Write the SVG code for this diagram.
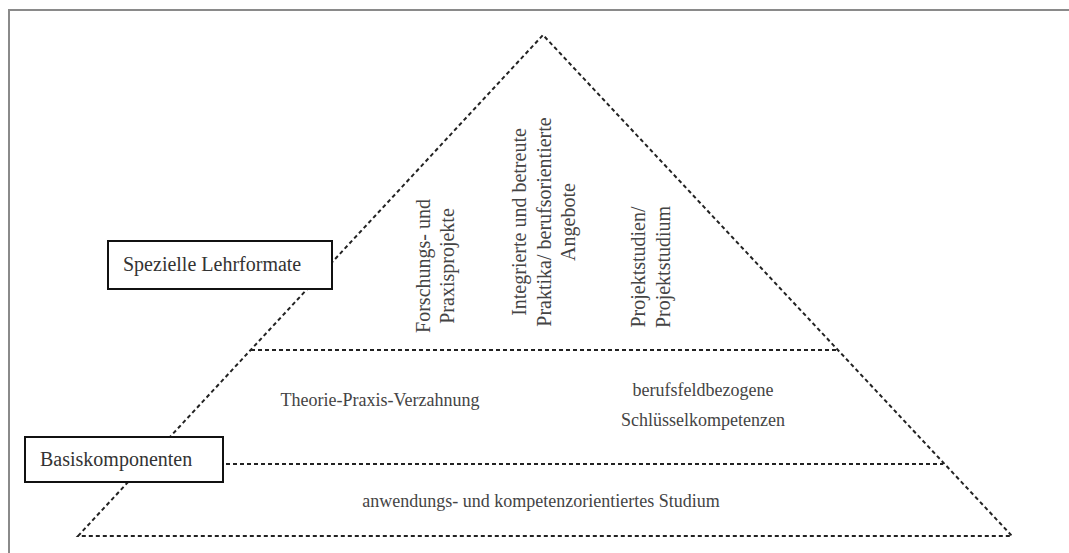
<svg xmlns="http://www.w3.org/2000/svg" width="1069" height="553" viewBox="0 0 1069 553">
<style>
.frame{stroke:#8a8a8a;stroke-width:2;fill:none}
.dash{stroke:#222;stroke-width:2;stroke-dasharray:4 3;fill:none}
.box{fill:#fff;stroke:#111;stroke-width:2}
.lbl{font-family:"Liberation Serif","Times New Roman",serif;font-size:20px;fill:#333}
.t{font-family:"Liberation Serif","Times New Roman",serif;font-size:18px;fill:#444}
.v{font-family:"Liberation Serif","Times New Roman",serif;font-size:20px;fill:#444;text-anchor:middle}
.c{text-anchor:middle}
</style>
<rect width="1069" height="553" fill="#fff"/>
<path class="frame" d="M9,553 V10 H1069"/>
<g id="connectors">
<path class="dash" d="M78,536 L543,35 L1012,536 Z"/>
<line class="dash" x1="251" y1="350" x2="837" y2="350"/>
<line class="dash" x1="226" y1="464" x2="943" y2="464"/>
</g>
<g id="spezielle-lehrformate">
<rect class="box" x="108" y="241" width="224" height="48"/>
<text class="lbl" x="123" y="271">Spezielle Lehrformate</text>
</g>
<g id="basiskomponenten">
<rect class="box" x="25" y="437" width="198" height="45"/>
<text class="lbl" x="40" y="466">Basiskomponenten</text>
</g>
<g id="forschung">
<text class="v" transform="translate(430,266) rotate(-90)">Forschungs- und</text>
<text class="v" transform="translate(454,266) rotate(-90)">Praxisprojekte</text>
</g>
<g id="praktika">
<text class="v" transform="translate(526,222) rotate(-90)">Integrierte und betreute</text>
<text class="v" transform="translate(551,222) rotate(-90)">Praktika/ berufsorientierte</text>
<text class="v" transform="translate(575,222) rotate(-90)">Angebote</text>
</g>
<g id="projektstudien">
<text class="v" transform="translate(645,267) rotate(-90)">Projektstudien/</text>
<text class="v" transform="translate(670,267) rotate(-90)">Projektstudium</text>
</g>
<g id="theorie-praxis">
<text class="t c" x="380" y="406">Theorie-Praxis-Verzahnung</text>
</g>
<g id="schluesselkompetenzen">
<text class="t c" x="703" y="396">berufsfeldbezogene</text>
<text class="t c" x="703" y="426">Schlüsselkompetenzen</text>
</g>
<g id="studium">
<text class="t c" x="541" y="507">anwendungs- und kompetenzorientiertes Studium</text>
</g>
</svg>
